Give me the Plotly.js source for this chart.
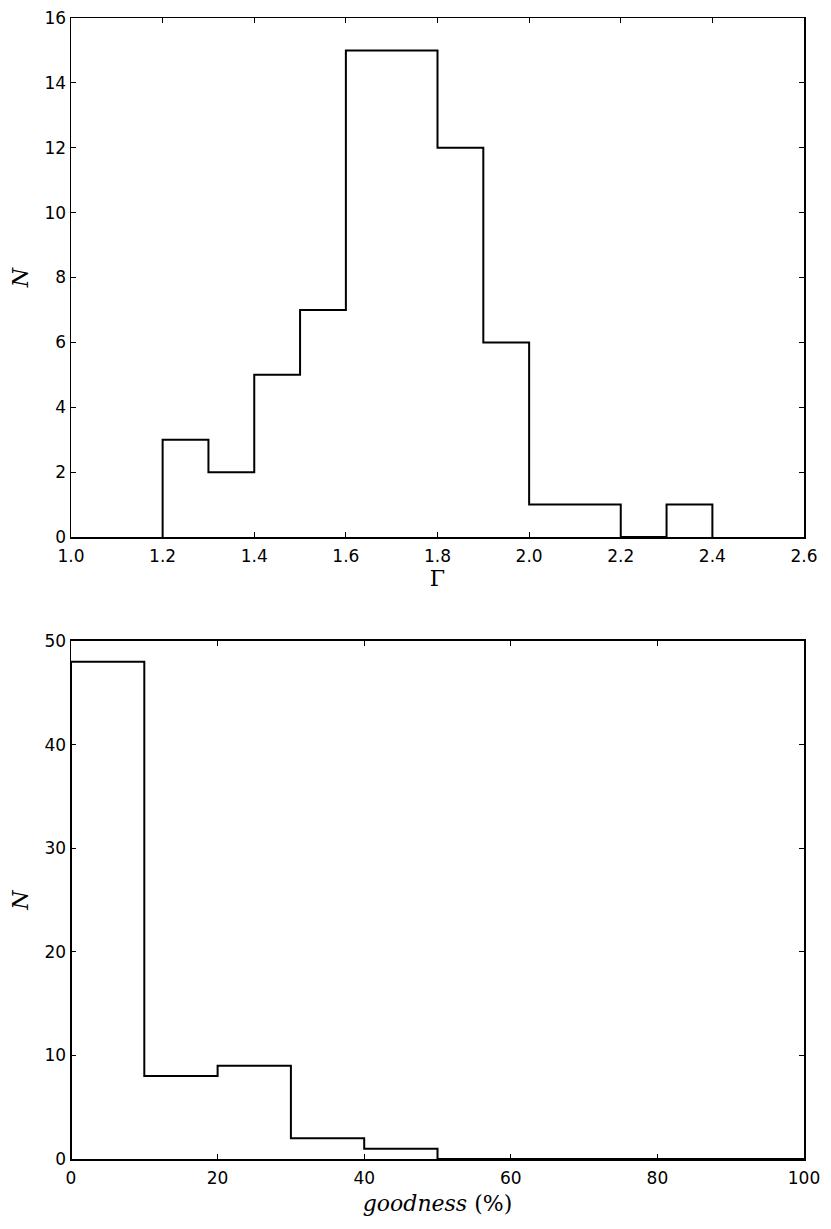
<!DOCTYPE html>
<html>
<head>
<meta charset="utf-8">
<script src="https://cdn.plot.ly/plotly-3.0.1.min.js"></script>
<style>
  body { margin: 0; background: #fff; }
  #plot { width: 831px; height: 1229px; }
</style>
</head>
<body>
<div id="plot"></div>
<script>
// photon index histogram
var gammaEdges = [1.2, 1.3, 1.4, 1.5, 1.6, 1.7, 1.8, 1.9, 2.0, 2.1, 2.2, 2.3, 2.4];
var gammaCounts = [3, 2, 5, 7, 15, 15, 12, 6, 1, 1, 0, 1];

// goodness histogram
var goodEdges = [0, 10, 20, 30, 40, 50, 60, 70, 80, 90, 100];
var goodCounts = [48, 8, 9, 2, 1, 0, 0, 0, 0, 0];

function stepTrace(edges, counts, xa, ya) {
	// outline like histtype='step'
	var x = [edges[0]].concat(edges);
	var y = [0].concat(counts).concat([0]);
	return {
		x: x, y: y, xaxis: xa, yaxis: ya,
		type: 'scatter', mode: 'lines',
		line: { shape: 'hv', color: '#000', width: 2 },
		cliponaxis: false, hoverinfo: 'none', showlegend: false
	};
}

var tickFont = { family: 'DejaVu Sans', size: 17, color: '#000' };
var titleFont = { family: 'DejaVu Serif', size: 22, color: '#000' };

function axis(extra) {
	var a = {
		showline: true, linecolor: '#000', linewidth: 1.5, mirror: 'allticks',
		ticks: 'inside', ticklen: 5, tickwidth: 1, tickcolor: '#000',
		showgrid: false, zeroline: false, tickfont: tickFont, fixedrange: true
	};
	for (var k in extra) a[k] = extra[k];
	return a;
}

var data = [
	stepTrace(gammaEdges, gammaCounts, 'x', 'y'),
	stepTrace(goodEdges, goodCounts, 'x2', 'y2')
];

var layout = {
	width: 831, height: 1229,
	margin: { l: 71, r: 27, t: 18, b: 70 },
	paper_bgcolor: '#fff', plot_bgcolor: '#fff',
	xaxis: axis({ range: [1.0, 2.6], dtick: 0.2, tick0: 1.0, tickformat: '.1f', anchor: 'y',
		ticklabelstandoff: 3,
		title: { text: 'Γ', font: titleFont, standoff: 5 } }),
	yaxis: axis({ range: [0, 16], dtick: 2, domain: [0.5451, 1], anchor: 'x',
		title: { text: '<i>N</i>', font: titleFont, standoff: 10 } }),
	xaxis2: axis({ range: [0, 100], dtick: 20, anchor: 'y2',
		ticklabelstandoff: 3,
		title: { text: '<i>goodness</i> (%)', font: titleFont, standoff: 8 } }),
	yaxis2: axis({ range: [0, 50], dtick: 10, domain: [0, 0.454], anchor: 'x2',
		title: { text: '<i>N</i>', font: titleFont, standoff: 10 } })
};

Plotly.newPlot('plot', data, layout, { staticPlot: true });
</script>
</body>
</html>
